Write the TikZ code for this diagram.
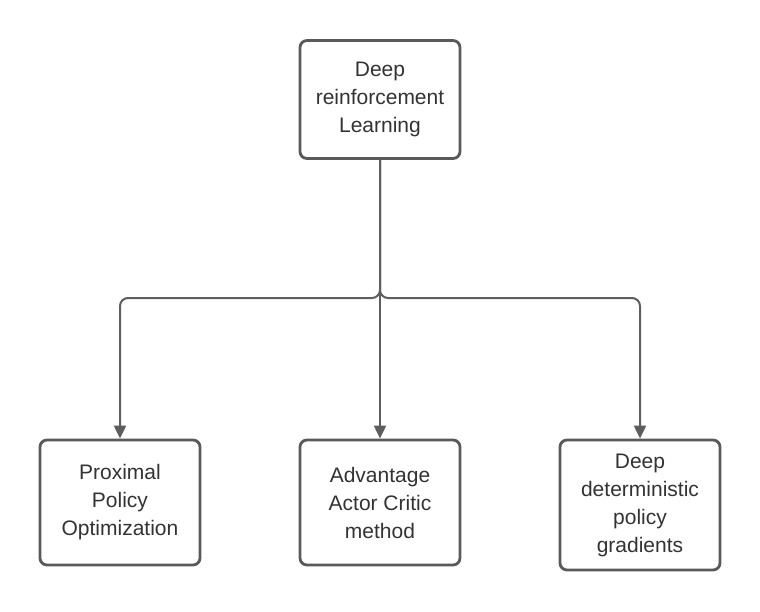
\documentclass[tikz,border=0pt]{standalone}
\usepackage{fontspec}
\setmainfont{Liberation Sans}
\usepackage{tikz}
\usetikzlibrary{arrows.meta,positioning}
\usepackage{xcolor}
\definecolor{boxgray}{HTML}{5A5A5A}
\definecolor{linegray}{HTML}{5E5E5E}

\tikzset{
    methodbox/.style={draw=boxgray, line width=2.8pt, rounded corners=7pt, fill=white,
        minimum width=160pt, align=center, text=black!80,
        font=\fontsize{21}{28}\selectfont},
    branch/.style={draw=linegray, line width=2pt, rounded corners=8pt,
        -{Triangle[length=13pt,width=12pt]}}
}

\begin{document}
\begin{tikzpicture}[x=1pt,y=-1pt]
        \useasboundingbox (0,0) rectangle (760,611);

        % Root node
        \node[methodbox, minimum height=118pt] (drl) at (380,99.5) {Deep\\reinforcement\\Learning};

        % Methods
        \node[methodbox, minimum height=125pt] (ppo) at (120,502.5) {Proximal\\Policy\\Optimization};
        \node[methodbox, minimum height=125pt] (a2c) at (380,502.5) {Advantage\\Actor Critic\\method};
        \node[methodbox, minimum height=130pt] (ddpg) at (640,505) {Deep\\deterministic\\policy\\gradients};

        % Connectors
        \draw[branch] (drl.south) |- (250,298) -| (ppo.north);
        \draw[branch] (drl.south) -- (a2c.north);
        \draw[branch] (drl.south) |- (510,298) -| (ddpg.north);
    \end{tikzpicture}
\end{document}
